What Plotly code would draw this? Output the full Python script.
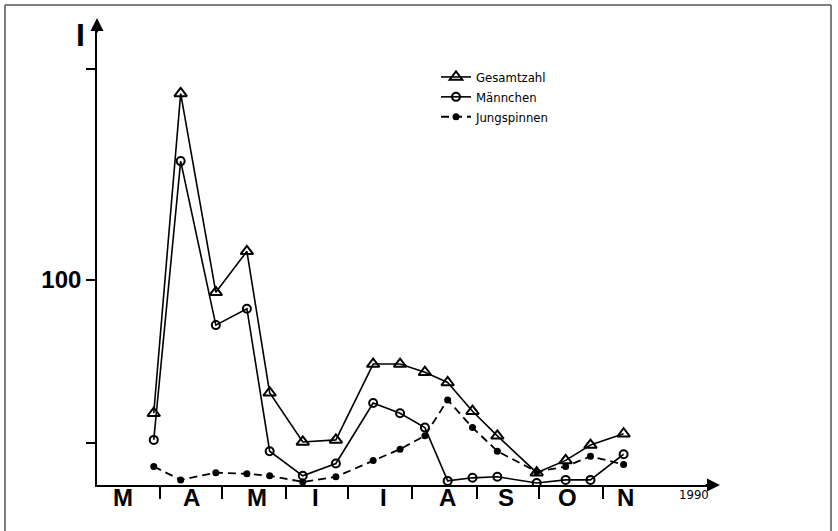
import plotly.graph_objects as go

# ---------------- data ----------------
dates = ["1990-03-29", "1990-04-11", "1990-04-28", "1990-05-13", "1990-05-24",
         "1990-06-09", "1990-06-25", "1990-07-13", "1990-07-26", "1990-08-07",
         "1990-08-18", "1990-08-30", "1990-09-11", "1990-09-30", "1990-10-14",
         "1990-10-26", "1990-11-11"]
gesamtzahl = [35, 191, 94, 114, 45, 21, 22, 59, 59, 55, 50, 36, 24, 6, 12, 19.5, 25]
maennchen = [22, 158, 78, 86, 16.5, 4.5, 10.5, 40, 35, 28, 2, 3.5, 4, 1, 2.5, 2.5, 15]
jungspinnen = [9, 2.5, 6, 5.5, 4.5, 1.5, 4, 12, 17.5, 24, 41.5, 28, 16.5, 6.5, 9, 14, 10]

month_labels = ["M", "A", "M", "I", "I", "A", "S", "O", "N"]
month_label_pos = ["1990-03-14", "1990-04-16", "1990-05-18", "1990-06-15", "1990-07-18",
                   "1990-08-18", "1990-09-15", "1990-10-15", "1990-11-12"]
month_starts = ["1990-04-01", "1990-05-01", "1990-06-01", "1990-07-01", "1990-08-01",
                "1990-09-01", "1990-10-01", "1990-11-01"]
y_tickvals = [20.5, 100, 203]
y_ticktext = ["", "100", ""]
year_label = "1990"
y_label = "I"

# ---------------- layout geometry ----------------
W, H = 838, 531
L, R, T, B = 97, 126, 25, 46
PW, PH = W - L - R, H - T - B


def px_x(px):
    return (px - L) / PW


def px_y(py):
    return (H - B - py) / PH


NARROW = "Liberation Sans Narrow, DejaVu Sans Condensed, Arial Narrow, sans-serif"
BOLD = "Liberation Sans, Arial, Helvetica, sans-serif"

fig = go.Figure()

fig.add_trace(go.Scatter(
    x=dates, y=gesamtzahl, name="Gesamtzahl", mode="lines+markers",
    line=dict(color="black", width=1.6),
    marker=dict(symbol="triangle-up-open", size=11, color="black", line=dict(width=2, color="black")),
))
fig.add_trace(go.Scatter(
    x=dates, y=maennchen, name="Männchen", mode="lines+markers",
    line=dict(color="black", width=1.6),
    marker=dict(symbol="circle-open", size=8, color="black", line=dict(width=2, color="black")),
))
fig.add_trace(go.Scatter(
    x=dates, y=jungspinnen, name="Jungspinnen", mode="lines+markers",
    line=dict(color="black", width=1.8, dash="8px,5px"),
    marker=dict(symbol="circle", size=7, color="black"),
))

fig.update_layout(
    width=W, height=H,
    margin=dict(l=L, r=R, t=T, b=B, pad=0),
    paper_bgcolor="white", plot_bgcolor="white",
    showlegend=True,
    legend=dict(
        x=px_x(436), y=px_y(62), xanchor="left", yanchor="top",
        bgcolor="rgba(0,0,0,0)", borderwidth=0,
        font=dict(family=NARROW, size=13, color="black"),
        tracegroupgap=0, itemwidth=30,
    ),
    xaxis=dict(
        type="date",
        range=["1990-03-01 14:00", "1990-12-23 17:00"],
        showline=True, linecolor="black", linewidth=1.6,
        showgrid=False, zeroline=False,
        showticklabels=False, ticks="",
        minor=dict(tickmode="array", tickvals=month_starts, ticks="outside",
                   ticklen=12, tickwidth=1.6, tickcolor="black", showgrid=False),
    ),
    yaxis=dict(
        range=[0, (H - B - T) / 2.05],
        showline=True, linecolor="black", linewidth=1.6,
        showgrid=False, zeroline=False,
        tickmode="array", tickvals=y_tickvals, ticktext=y_ticktext,
        ticks="outside", ticklen=9, tickwidth=1.6, tickcolor="black",
        tickfont=dict(family=BOLD, size=24, color="black", weight="bold"),
    ),
)

# month labels under the axis
for lab, pos in zip(month_labels, month_label_pos):
    fig.add_annotation(x=pos, xref="x", y=px_y(497), yref="paper", text=lab,
                       showarrow=False, xanchor="center", yanchor="middle",
                       font=dict(family=BOLD, size=24, color="black", weight="bold"))

# axis arrowheads
fig.add_annotation(x=px_x(720), y=px_y(485), xref="paper", yref="paper", text="",
                   showarrow=True, ax=-16, ay=0, arrowhead=2, arrowsize=1.3,
                   arrowwidth=2, arrowcolor="black", standoff=0)
fig.add_annotation(x=px_x(97), y=px_y(18), xref="paper", yref="paper", text="",
                   showarrow=True, ax=0, ay=16, arrowhead=2, arrowsize=1.3,
                   arrowwidth=2, arrowcolor="black", standoff=0)

# texts
fig.add_annotation(x=px_x(80), y=px_y(35), xref="paper", yref="paper", text=y_label,
                   showarrow=False, xanchor="center", yanchor="middle",
                   font=dict(family=BOLD, size=32, color="black", weight="bold"))
fig.add_annotation(x=px_x(694), y=px_y(494), xref="paper", yref="paper", text=year_label,
                   showarrow=False, xanchor="center", yanchor="middle",
                   font=dict(family=NARROW, size=13, color="black"))

# outer frame
for (x0, y0, x1, y1) in [(5, 5, 831, 5), (5, 5, 5, 531), (831, 5, 831, 531)]:
    fig.add_shape(type="line", xref="paper", yref="paper",
                  x0=px_x(x0), y0=px_y(y0), x1=px_x(x1), y1=px_y(y1),
                  line=dict(color="#555555", width=1.5))

fig.write_html("out.html")
